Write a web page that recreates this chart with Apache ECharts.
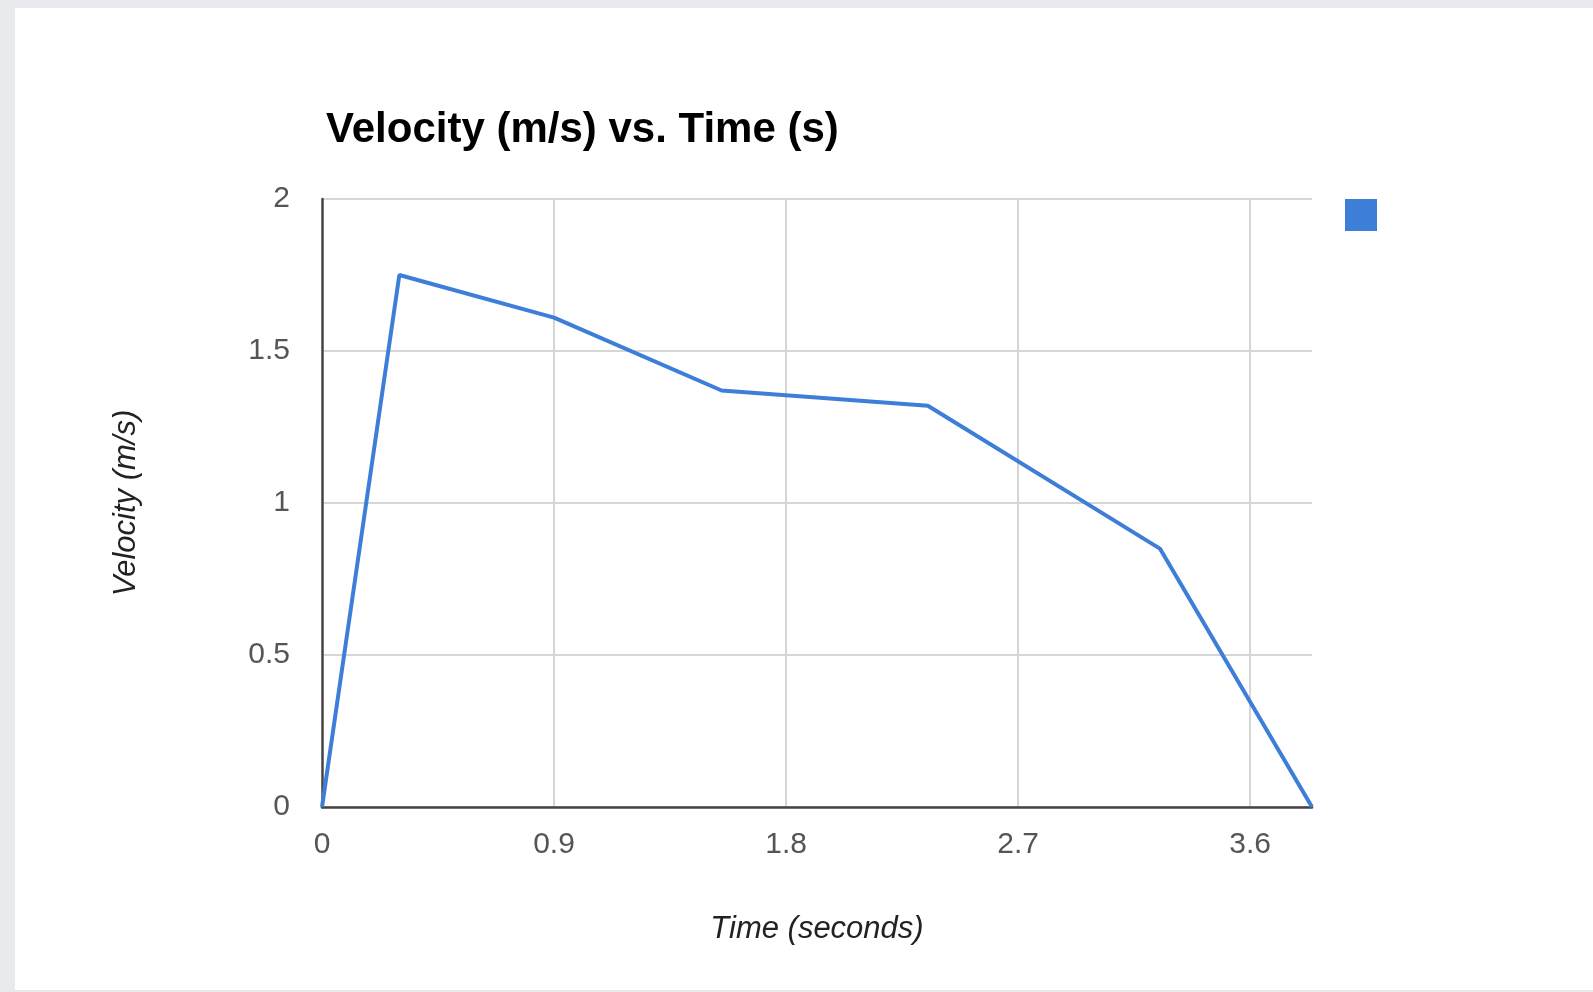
<!DOCTYPE html>
<html>
<head>
<meta charset="utf-8">
<script src="https://cdn.jsdelivr.net/npm/echarts@6/dist/echarts.min.js"></script>
<style>
  html, body { margin: 0; padding: 0; width: 1593px; height: 992px; background: #e8eaed; overflow: hidden; }
  #panel { position: absolute; left: 15px; top: 8px; right: 0; bottom: 2px; background: #ffffff; }
  #chart { position: absolute; left: 0; top: 0; width: 1593px; height: 992px; }
</style>
</head>
<body>
<div id="panel"></div>
<div id="chart"></div>
<script>
const titleText = 'Velocity (m/s) vs. Time (s)';
const xAxisName = 'Time (seconds)';
const yAxisName = 'Velocity (m/s)';
const seriesName = 'Velocity';
const timeValues = [0, 0.30, 0.90, 1.55, 2.35, 3.25, 3.84];
const velocityValues = [0, 1.75, 1.61, 1.37, 1.32, 0.85, 0];
const xTickInterval = 0.9;
const xMax = 3.84;
const yTickInterval = 0.5;
const yMax = 2;

const points = timeValues.map((t, i) => [t, velocityValues[i]]);
const fontFamily = 'Liberation Sans, Arial, sans-serif';
const blue = '#3d7ed8';

const chart = echarts.init(document.getElementById('chart'), null, { renderer: 'canvas' });
chart.setOption({
  backgroundColor: 'transparent',
  animation: false,
  title: {
    text: titleText,
    left: 321,
    top: 104,
    textStyle: { fontFamily: fontFamily, fontSize: 42, fontWeight: 'bold', color: '#000000' }
  },
  legend: {
    data: [seriesName],
    left: 1340,
    top: 194,
    icon: 'rect',
    itemWidth: 32,
    itemHeight: 32,
    formatter: function () { return ''; },
    textStyle: { fontSize: 1 },
    selectedMode: false
  },
  grid: { left: 322, top: 199, right: 281, bottom: 185, containLabel: false },
  xAxis: {
    type: 'value',
    min: 0,
    max: xMax,
    interval: xTickInterval,
    name: xAxisName,
    nameLocation: 'middle',
    nameGap: 107,
    nameTextStyle: { fontFamily: fontFamily, fontSize: 31, fontStyle: 'italic', color: '#222222' },
    axisLine: { show: true, lineStyle: { color: '#444444', width: 2.5 } },
    axisTick: { show: false },
    axisLabel: {
      margin: 23,
      fontFamily: fontFamily,
      fontSize: 30,
      color: '#555555',
      showMaxLabel: false,
      formatter: function (v) { return String(Math.round(v * 10) / 10); }
    },
    splitLine: { show: true, showMinLine: false, showMaxLine: false, lineStyle: { color: '#d6d6d6', width: 2 } }
  },
  yAxis: {
    type: 'value',
    min: 0,
    max: yMax,
    interval: yTickInterval,
    name: yAxisName,
    nameLocation: 'middle',
    nameGap: 180,
    nameTextStyle: { fontFamily: fontFamily, fontSize: 31, fontStyle: 'italic', color: '#222222' },
    axisLine: { show: true, lineStyle: { color: '#444444', width: 2.5 } },
    axisTick: { show: false },
    axisLabel: { margin: 32, fontFamily: fontFamily, fontSize: 30, color: '#555555' },
    splitLine: { show: true, lineStyle: { color: '#d6d6d6', width: 2 } }
  },
  series: [{
    name: seriesName,
    type: 'line',
    data: points,
    showSymbol: false,
    symbol: 'none',
    itemStyle: { color: blue },
    lineStyle: { color: blue, width: 4 },
    z: 5
  }]
});
</script>
</body>
</html>
